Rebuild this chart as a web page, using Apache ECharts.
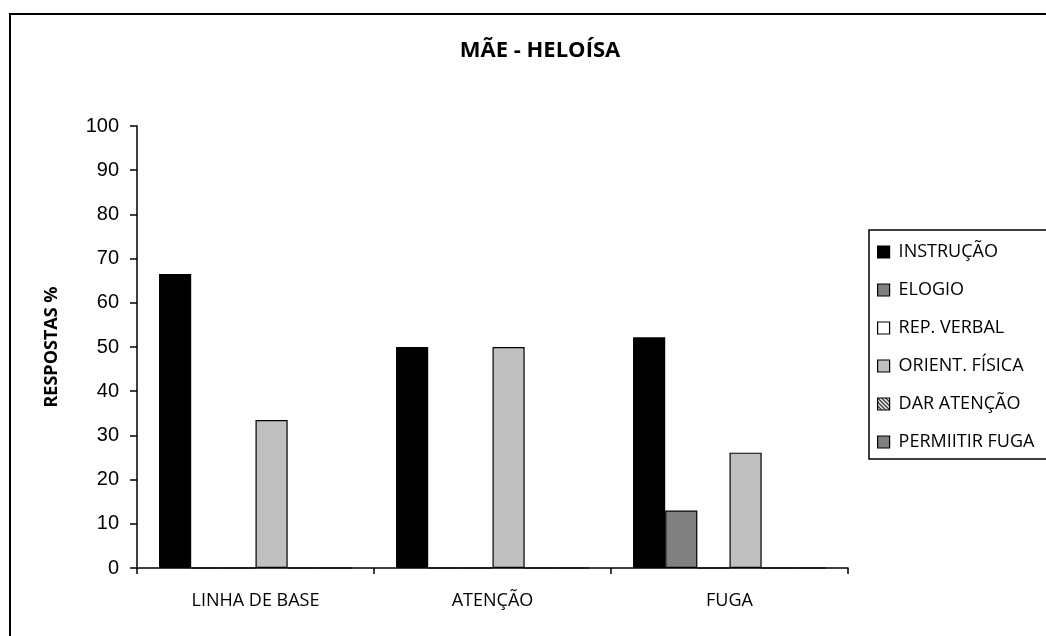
<!DOCTYPE html>
<html>
<head>
<meta charset="utf-8">
<script src="https://cdn.jsdelivr.net/npm/echarts@6/dist/echarts.min.js"></script>
<style>html,body{margin:0;padding:0;background:#fff}#c{width:1046px;height:636px}</style>
</head>
<body>
<div id="c"></div>
<script>
const categories = ['LINHA DE BASE', 'ATENÇÃO', 'FUGA'];
const seriesNames = ['INSTRUÇÃO', 'ELOGIO', 'REP. VERBAL', 'ORIENT. FÍSICA', 'DAR ATENÇÃO', 'PERMIITIR FUGA'];
const instrucao = [66.5, 50, 52.2];
const elogio = [0, 0, 13.0];
const repVerbal = [0, 0, 0];
const orientFisica = [33.5, 50, 26.1];
const darAtencao = [0, 0, 0];
const permitirFuga = [0, 0, 0];
const yTicks = [0, 10, 20, 30, 40, 50, 60, 70, 80, 90, 100];

function hatch() {
  const c = document.createElement('canvas');
  c.width = 4; c.height = 4;
  const g = c.getContext('2d');
  g.fillStyle = '#fff'; g.fillRect(0, 0, 4, 4);
  g.strokeStyle = '#000'; g.lineWidth = 1.2;
  g.beginPath(); g.moveTo(0, 0); g.lineTo(4, 4); g.stroke();
  g.beginPath(); g.moveTo(-2, 2); g.lineTo(2, 6); g.stroke();
  g.beginPath(); g.moveTo(2, -2); g.lineTo(6, 2); g.stroke();
  return c;
}
const colors = ['#000000', '#808080', '#ffffff', '#c0c0c0', {image: hatch(), repeat: 'repeat'}, '#808080'];
const values = [instrucao, elogio, repVerbal, orientFisica, darAtencao, permitirFuga];

const chart = echarts.init(document.getElementById('c'), null, {renderer: 'canvas'});
chart.setOption({
  animation: false,
  backgroundColor: '#fff',
  title: {
    text: 'MÃE - HELOÍSA', left: 535, top: 35, textAlign: 'center',
    textStyle: {fontFamily: 'Open Sans', fontWeight: 'bold', fontSize: 22, color: '#000'}
  },
  graphic: [{
    type: 'rect', shape: {x: 10, y: 14, width: 1200, height: 800},
    style: {fill: null, stroke: '#000', lineWidth: 2}, silent: true, z: 100
  }],
  legend: {
    orient: 'vertical', left: 869, top: 230,
    padding: [12, 30, 7, 8], itemGap: 18,
    itemWidth: 12, itemHeight: 12, icon: 'rect',
    borderColor: '#000', borderWidth: 1.5,
    textStyle: {fontFamily: 'Open Sans', fontSize: 18, lineHeight: 20, color: '#000', padding: [0, 0, 0, 4]},
    itemStyle: {borderColor: '#000', borderWidth: 1.2},
    data: seriesNames
  },
  grid: {left: 137, right: 198, top: 126, bottom: 68},
  xAxis: {
    type: 'category', data: categories,
    axisLine: {lineStyle: {color: '#000', width: 1.5}},
    axisTick: {show: true, length: 6, inside: false, lineStyle: {color: '#000', width: 1.5}},
    axisLabel: {fontFamily: 'Open Sans', fontSize: 18, color: '#000', margin: 24}
  },
  yAxis: {
    type: 'value', min: 0, max: 100, interval: 10,
    name: 'RESPOSTAS %', nameLocation: 'middle', nameGap: 76, nameRotate: 90,
    nameTextStyle: {fontFamily: 'Open Sans', fontWeight: 'bold', fontSize: 18, color: '#000'},
    axisLine: {show: true, lineStyle: {color: '#000', width: 1.5}},
    axisTick: {show: true, length: 7, lineStyle: {color: '#000', width: 1.5}},
    splitLine: {show: false},
    axisLabel: {fontFamily: 'Liberation Sans', fontSize: 20, color: '#000', margin: 18,
      formatter: v => yTicks.includes(v) ? String(v) : ''}
  },
  series: seriesNames.map((n, i) => ({
    name: n, type: 'bar', data: values[i],
    barGap: '0%', barCategoryGap: '18.6%',
    itemStyle: {color: colors[i], borderColor: '#000', borderWidth: 1.2},
    emphasis: {disabled: true}
  }))
});
</script>
</body>
</html>
